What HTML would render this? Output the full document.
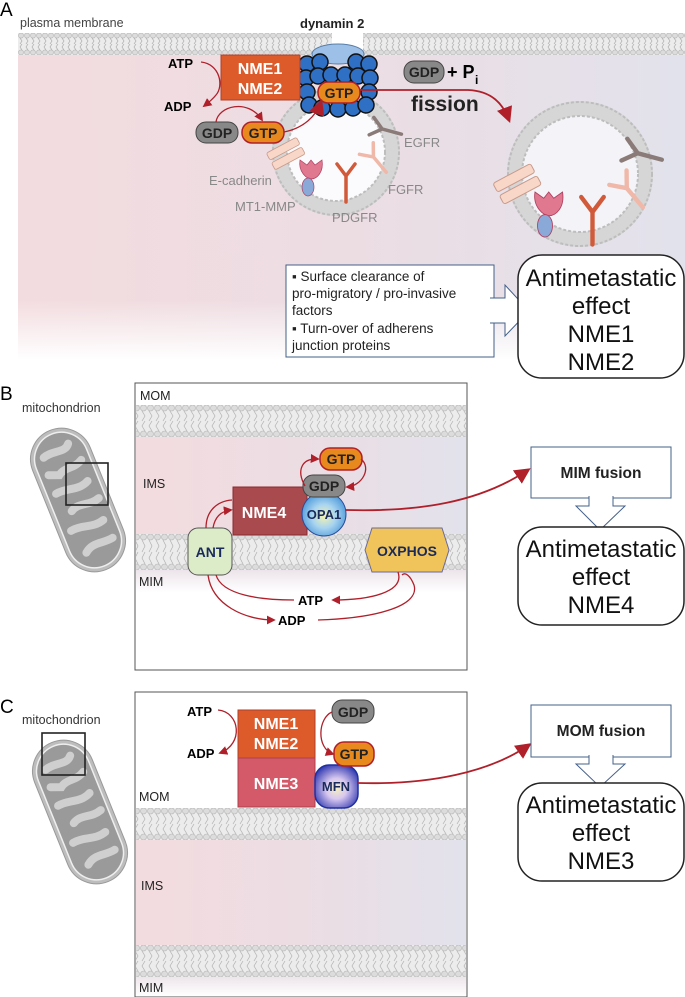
<!DOCTYPE html>
<html><head><meta charset="utf-8"><style>
html,body{margin:0;padding:0;background:#fff;}
svg{display:block;font-family:"Liberation Sans",Arial,sans-serif;}
</style></head><body>
<svg width="685" height="997" viewBox="0 0 685 997" xmlns="http://www.w3.org/2000/svg">
<defs>
<marker id="ar" viewBox="0 0 10 10" refX="8" refY="5" markerWidth="9" markerHeight="9" markerUnits="userSpaceOnUse" orient="auto"><path d="M0,0 L10,5 L0,10 z" fill="#b0202a"/></marker>
<marker id="arb" viewBox="0 0 10 10" refX="8" refY="5" markerWidth="16" markerHeight="16" markerUnits="userSpaceOnUse" orient="auto"><path d="M0,0 L10,5 L0,10 z" fill="#b0202a"/></marker>
<linearGradient id="bgA" x1="0" x2="1" y1="0" y2="0"><stop offset="0" stop-color="#f3dcdf"/><stop offset="0.5" stop-color="#ecdde3"/><stop offset="1" stop-color="#e2e2ec"/></linearGradient>
<linearGradient id="fadeW" x1="0" x2="0" y1="0" y2="1"><stop offset="0" stop-color="#fff" stop-opacity="0"/><stop offset="1" stop-color="#fff" stop-opacity="1"/></linearGradient>
<radialGradient id="opa" cx="0.5" cy="0.55" r="0.6"><stop offset="0" stop-color="#f4f3b0"/><stop offset="0.45" stop-color="#a8d4f0"/><stop offset="1" stop-color="#3d8fd6"/></radialGradient>
<radialGradient id="mfn" cx="0.5" cy="0.55" r="0.6"><stop offset="0" stop-color="#f6f0c0"/><stop offset="0.4" stop-color="#d8c8f0"/><stop offset="1" stop-color="#3038b0"/></radialGradient>
<pattern id="memA" patternUnits="userSpaceOnUse" x="0" y="33" width="6" height="22"><rect width="6" height="22" fill="#ececec"/><circle cx="3" cy="2.6" r="2.5" fill="#dcdcdc" stroke="#b5b5b5" stroke-width="0.6"/><circle cx="3" cy="19.4" r="2.5" fill="#dcdcdc" stroke="#b5b5b5" stroke-width="0.6"/><path d="M2,5 L4,8 L2,11 M4,11 L2,14 L4,17" stroke="#b0b0b0" stroke-width="0.7" fill="none"/></pattern>
<pattern id="memB1" patternUnits="userSpaceOnUse" x="0" y="405" width="7" height="32"><rect width="7" height="32" fill="#ececec"/><circle cx="3.5" cy="3" r="3" fill="#dcdcdc" stroke="#b5b5b5" stroke-width="0.6"/><circle cx="3.5" cy="29" r="3" fill="#dcdcdc" stroke="#b5b5b5" stroke-width="0.6"/><path d="M2,6 L5,11 L2,16 M5,16 L2,21 L5,26" stroke="#b0b0b0" stroke-width="0.7" fill="none"/></pattern>
<pattern id="memB2" patternUnits="userSpaceOnUse" x="0" y="534" width="7" height="36"><rect width="7" height="36" fill="#ececec"/><circle cx="3.5" cy="3" r="3" fill="#dcdcdc" stroke="#b5b5b5" stroke-width="0.6"/><circle cx="3.5" cy="33" r="3" fill="#dcdcdc" stroke="#b5b5b5" stroke-width="0.6"/><path d="M2,6 L5,12 L2,18 M5,18 L2,24 L5,30" stroke="#b0b0b0" stroke-width="0.7" fill="none"/></pattern>
<pattern id="memC1" patternUnits="userSpaceOnUse" x="0" y="808" width="7" height="32"><rect width="7" height="32" fill="#ececec"/><circle cx="3.5" cy="3" r="3" fill="#dcdcdc" stroke="#b5b5b5" stroke-width="0.6"/><circle cx="3.5" cy="29" r="3" fill="#dcdcdc" stroke="#b5b5b5" stroke-width="0.6"/><path d="M2,6 L5,11 L2,16 M5,16 L2,21 L5,26" stroke="#b0b0b0" stroke-width="0.7" fill="none"/></pattern>
<pattern id="memC2" patternUnits="userSpaceOnUse" x="0" y="945" width="7" height="32"><rect width="7" height="32" fill="#ececec"/><circle cx="3.5" cy="3" r="3" fill="#dcdcdc" stroke="#b5b5b5" stroke-width="0.6"/><circle cx="3.5" cy="29" r="3" fill="#dcdcdc" stroke="#b5b5b5" stroke-width="0.6"/><path d="M2,6 L5,11 L2,16 M5,16 L2,21 L5,26" stroke="#b0b0b0" stroke-width="0.7" fill="none"/></pattern>
<g id="rec">
 <g transform="translate(-50,2) rotate(-28)"><rect x="-17" y="-10" width="34" height="8" rx="2" fill="#f8d6c8" stroke="#c89a8a" stroke-width="0.8"/><rect x="-17" y="1" width="34" height="8" rx="2" fill="#f8d6c8" stroke="#c89a8a" stroke-width="0.8"/></g>
 <g transform="translate(-25,20)"><path d="M-11,-12 C-13,0 -4,7 0,7 C6,7 13,0 11,-12 L4,-7 L0,-12 L-4,-7 z" fill="#e07890" stroke="#b04060" stroke-width="0.7"/><ellipse cx="-3" cy="15" rx="6" ry="9" fill="#8aa8d8" stroke="#b04060" stroke-width="0.7"/></g>
 <g transform="translate(10,30)" stroke="#d05a3a" stroke-width="3.5" fill="none" stroke-linecap="round"><path d="M0,20 L0,-6 L-9,-18 M0,-6 L9,-18"/></g>
 <g transform="translate(40,8) rotate(-40)" stroke="#f0b8a8" stroke-width="3.5" fill="none" stroke-linecap="round"><path d="M0,16 L0,-4 L-9,-15 M0,-4 L9,-15"/></g>
 <g transform="translate(50,-22) rotate(-75)" stroke="#8a7a78" stroke-width="3.5" fill="none" stroke-linecap="round"><path d="M0,16 L0,-4 L-9,-15 M0,-4 L9,-15"/></g>
</g>
<g id="mito">
<rect x="-31" y="-75" width="62" height="150" rx="31" fill="#bdbdbd" stroke="#999"/>
<rect x="-27" y="-71" width="54" height="142" rx="27" fill="#9a9a9a" stroke="#eee" stroke-width="1.5"/>
<g stroke="#cfcfcf" stroke-width="8" stroke-linecap="round" fill="none">
<path d="M-16,-52 C-5,-56 6,-48 12,-56"/><path d="M18,-36 C8,-30 0,-36 -8,-30 L-18,-34"/><path d="M-18,-14 C-6,-16 4,-8 16,-14"/><path d="M20,6 C8,10 0,2 -10,8"/><path d="M-18,26 C-6,24 4,32 16,28"/><path d="M18,48 C6,50 -2,44 -12,52"/>
</g></g>
</defs>

<!-- PANEL A -->
<text x="0" y="16" font-size="19">A</text>
<text x="20" y="27" font-size="12.5" fill="#444">plasma membrane</text>
<text x="300" y="28" font-size="13" font-weight="bold" fill="#222">dynamin 2</text>
<rect x="18" y="55" width="667" height="305" fill="url(#bgA)"/>
<rect x="18" y="300" width="667" height="60" fill="url(#fadeW)"/>
<rect x="18" y="33" width="314" height="22" fill="url(#memA)"/>
<rect x="363" y="33" width="322" height="22" fill="url(#memA)"/>
<circle cx="336" cy="152" r="56" fill="none" stroke="#d6d6d6" stroke-width="16"/>
<circle cx="336" cy="152" r="63" fill="none" stroke="#bdbdbd" stroke-width="2" stroke-dasharray="3 2"/>
<circle cx="336" cy="152" r="49" fill="#fbfbfd" stroke="#bdbdbd" stroke-width="2" stroke-dasharray="3 2"/>
<use href="#rec" transform="translate(336,152)"/>
<circle cx="580" cy="174" r="65" fill="none" stroke="#d6d6d6" stroke-width="16"/>
<circle cx="580" cy="174" r="72" fill="none" stroke="#bdbdbd" stroke-width="2" stroke-dasharray="3 2"/>
<circle cx="580" cy="174" r="58" fill="#f4f4f8" stroke="#bdbdbd" stroke-width="2" stroke-dasharray="3 2"/>
<use href="#rec" transform="translate(580,182) scale(1.25)"/>
<ellipse cx="338" cy="54" rx="26" ry="10" fill="#9cc0e8" stroke="#5a7ea8"/>
<g fill="#2f6fc4" stroke="#111" stroke-width="1.5">
<circle cx="307" cy="64" r="8"/><circle cx="320" cy="62" r="8"/><circle cx="356" cy="62" r="8"/><circle cx="369" cy="64" r="8"/>
<circle cx="306" cy="78" r="8"/><circle cx="318" cy="76" r="8"/><circle cx="331" cy="75" r="8"/><circle cx="345" cy="75" r="8"/><circle cx="358" cy="76" r="8"/><circle cx="370" cy="78" r="8"/>
<circle cx="307" cy="92" r="8"/><circle cx="369" cy="92" r="8"/>
<circle cx="309" cy="105" r="8"/><circle cx="322" cy="108" r="8"/><circle cx="338" cy="109" r="8"/><circle cx="353" cy="108" r="8"/><circle cx="366" cy="105" r="8"/>
</g>
<rect x="318" y="82" width="42" height="21" rx="10" fill="#e8891e" stroke="#b0202a" stroke-width="1.5"/>
<text x="339" y="98" font-size="14" font-weight="bold" text-anchor="middle" fill="#222">GTP</text>
<rect x="221" y="55" width="79" height="45" fill="#dd5a2a" stroke="#b0402a"/>
<text x="260" y="74" font-size="16" font-weight="bold" fill="#fff" text-anchor="middle">NME1</text>
<text x="260" y="94" font-size="16" font-weight="bold" fill="#fff" text-anchor="middle">NME2</text>
<text x="168" y="68" font-size="13" font-weight="bold">ATP</text>
<text x="164" y="111" font-size="13" font-weight="bold">ADP</text>
<rect x="196" y="122" width="42" height="21" rx="10" fill="#888" stroke="#444"/>
<text x="217" y="138" font-size="14" font-weight="bold" text-anchor="middle" fill="#222">GDP</text>
<rect x="242" y="122" width="42" height="21" rx="10" fill="#e8891e" stroke="#b0202a" stroke-width="1.5"/>
<text x="263" y="138" font-size="14" font-weight="bold" text-anchor="middle" fill="#222">GTP</text>
<g fill="none" stroke="#b0202a" stroke-width="1.3">
<path d="M201,62 C220,64 224,86 216,95 C212,100 208,103 204,106" marker-end="url(#ar)"/>
<path d="M216,122 C218,106 248,98 262,120" marker-end="url(#ar)"/>
<path d="M284,132 C304,128 316,116 321,102" marker-end="url(#arb)"/>
<path d="M360,90 L468,90 C492,91 503,104 509,120" stroke-width="1.8" marker-end="url(#arb)"/>
</g>
<rect x="404" y="61" width="40" height="22" rx="10" fill="#888" stroke="#444"/>
<text x="424" y="77" font-size="14" font-weight="bold" text-anchor="middle" fill="#222">GDP</text>
<text x="447" y="78" font-size="18" font-weight="bold">+ P</text>
<text x="475" y="84" font-size="12" font-weight="bold">i</text>
<text x="411" y="111" font-size="21" font-weight="bold" fill="#222">fission</text>
<g font-size="13" fill="#888">
<text x="404" y="147">EGFR</text><text x="209" y="185">E-cadherin</text><text x="388" y="194">FGFR</text><text x="235" y="211">MT1-MMP</text><text x="332" y="222">PDGFR</text>
</g>
<rect x="286" y="265" width="208" height="92" fill="#fff" stroke="#44608a"/>
<g font-size="13.5" fill="#222">
<text x="292" y="281">▪ Surface clearance of</text>
<text x="292" y="298">pro-migratory / pro-invasive</text>
<text x="292" y="315">factors</text>
<text x="292" y="333">▪ Turn-over of adherens</text>
<text x="292" y="350">junction proteins</text>
</g>
<path d="M490,298 L505,298 L505,285 L529,311 L505,336 L505,323 L490,323" fill="#fff" stroke="#44608a"/>
<rect x="518" y="255" width="166" height="123" rx="24" fill="#fff" stroke="#222" stroke-width="1.5"/>
<g font-size="24" text-anchor="middle" fill="#111">
<text x="601" y="286">Antimetastatic</text><text x="601" y="314">effect</text><text x="601" y="342">NME1</text><text x="601" y="370">NME2</text>
</g>

<!-- PANEL B -->
<text x="0" y="400" font-size="19">B</text>
<text x="22" y="412" font-size="12.5" fill="#333">mitochondrion</text>
<use href="#mito" transform="translate(78,500) rotate(-22)"/>
<rect x="66" y="463" width="42" height="42" fill="none" stroke="#222" stroke-width="1.6"/>
<rect x="135" y="383" width="332" height="287" fill="#fff" stroke="#555"/>
<rect x="136" y="437" width="330" height="97" fill="url(#bgA)"/>
<rect x="136" y="570" width="330" height="22" fill="#ece4ea"/>
<rect x="136" y="570" width="330" height="22" fill="url(#fadeW)"/>
<rect x="136" y="405" width="330" height="32" fill="url(#memB1)"/>
<rect x="136" y="534" width="330" height="36" fill="url(#memB2)"/>
<text x="140" y="400" font-size="12.5" fill="#222">MOM</text>
<text x="143" y="488" font-size="12.5" fill="#222">IMS</text>
<text x="139" y="586" font-size="12.5" fill="#222">MIM</text>
<rect x="233" y="487" width="74" height="48" fill="#a84a4e" stroke="#8a2a30"/>
<text x="264" y="518" font-size="16" font-weight="bold" fill="#fff" text-anchor="middle">NME4</text>
<ellipse cx="324" cy="514" rx="22" ry="22" fill="url(#opa)" stroke="#2a4a9a"/>
<text x="324" y="519" font-size="13" font-weight="bold" fill="#1a2a5a" text-anchor="middle">OPA1</text>
<rect x="303" y="475" width="42" height="22" rx="10" fill="#888" stroke="#444"/>
<text x="324" y="491" font-size="14" font-weight="bold" text-anchor="middle" fill="#222">GDP</text>
<rect x="320" y="448" width="42" height="22" rx="10" fill="#e8891e" stroke="#b0202a" stroke-width="1.5"/>
<text x="341" y="464" font-size="14" font-weight="bold" text-anchor="middle" fill="#222">GTP</text>
<rect x="188" y="528" width="44" height="47" rx="10" fill="#dcebc8" stroke="#555"/>
<text x="210" y="557" font-size="14" font-weight="bold" fill="#1a2a5a" text-anchor="middle">ANT</text>
<polygon points="372,528 442,528 449,550 442,572 372,572 365,550" fill="#f0c45a" stroke="#6a6a9a"/>
<text x="407" y="556" font-size="14" font-weight="bold" fill="#1a2a5a" text-anchor="middle">OXPHOS</text>
<text x="298" y="605" font-size="13" font-weight="bold">ATP</text>
<text x="278" y="625" font-size="13" font-weight="bold">ADP</text>
<g fill="none" stroke="#b0202a" stroke-width="1.3">
<path d="M305,486 C296,470 302,458 318,459" marker-end="url(#ar)"/>
<path d="M361,459 C372,468 362,486 347,487" marker-end="url(#ar)"/>
<path d="M206,528 C206,510 218,501 232,500"/>
<path d="M213,528 C215,516 222,511 231,510" marker-end="url(#ar)"/>
<path d="M208,575 C212,605 245,620 274,620" marker-end="url(#ar)"/>
<path d="M216,575 C222,595 260,600 294,600"/>
<path d="M318,620 C380,618 420,605 414,585 C410,575 405,572 402,575"/>
<path d="M398,572 C405,592 370,600 333,600" marker-end="url(#ar)"/>
<path d="M346,510 C420,512 480,502 528,470" stroke-width="1.8" marker-end="url(#arb)"/>
</g>
<rect x="531" y="447" width="140" height="51" fill="#fff" stroke="#44608a"/>
<text x="601" y="478" font-size="15.5" font-weight="bold" text-anchor="middle" fill="#222">MIM fusion</text>
<path d="M589,496 L589,506 L576,506 L600,530 L625,506 L613,506 L613,496" fill="#fff" stroke="#44608a"/>
<rect x="518" y="527" width="166" height="98" rx="24" fill="#fff" stroke="#222" stroke-width="1.5"/>
<g font-size="24" text-anchor="middle" fill="#111">
<text x="601" y="557">Antimetastatic</text><text x="601" y="585">effect</text><text x="601" y="613">NME4</text>
</g>

<!-- PANEL C -->
<text x="0" y="713" font-size="19">C</text>
<text x="22" y="724" font-size="12.5" fill="#333">mitochondrion</text>
<use href="#mito" transform="translate(80,812) rotate(-22)"/>
<rect x="42" y="733" width="43" height="42" fill="none" stroke="#222" stroke-width="1.6"/>
<rect x="135" y="692" width="332" height="305" fill="#fff" stroke="#555"/>
<rect x="136" y="840" width="330" height="105" fill="url(#bgA)"/>
<rect x="136" y="976" width="330" height="20" fill="#ece4ea"/>
<rect x="136" y="976" width="330" height="20" fill="url(#fadeW)"/>
<rect x="136" y="808" width="330" height="32" fill="url(#memC1)"/>
<rect x="136" y="945" width="330" height="32" fill="url(#memC2)"/>
<text x="139" y="801" font-size="12.5" fill="#222">MOM</text>
<text x="141" y="890" font-size="12.5" fill="#222">IMS</text>
<text x="139" y="992" font-size="12.5" fill="#222">MIM</text>
<rect x="238" y="710" width="77" height="48" fill="#dd5a2a" stroke="#b0402a"/>
<text x="276" y="729" font-size="16" font-weight="bold" fill="#fff" text-anchor="middle">NME1</text>
<text x="276" y="749" font-size="16" font-weight="bold" fill="#fff" text-anchor="middle">NME2</text>
<rect x="238" y="758" width="77" height="49" fill="#d45a6a" stroke="#b0404a"/>
<text x="276" y="789" font-size="16" font-weight="bold" fill="#fff" text-anchor="middle">NME3</text>
<rect x="315" y="765" width="43" height="43" rx="14" fill="url(#mfn)" stroke="#2030a0" stroke-width="1.5"/>
<text x="336" y="791" font-size="13" font-weight="bold" fill="#1a2a5a" text-anchor="middle">MFN</text>
<rect x="332" y="700" width="42" height="23" rx="10" fill="#888" stroke="#444"/>
<text x="353" y="717" font-size="14" font-weight="bold" text-anchor="middle" fill="#222">GDP</text>
<rect x="334" y="742" width="40" height="24" rx="10" fill="#e8891e" stroke="#b0202a" stroke-width="1.5"/>
<text x="354" y="759" font-size="14" font-weight="bold" text-anchor="middle" fill="#222">GTP</text>
<text x="187" y="716" font-size="13" font-weight="bold">ATP</text>
<text x="187" y="758" font-size="13" font-weight="bold">ADP</text>
<g fill="none" stroke="#b0202a" stroke-width="1.3">
<path d="M218,710 C240,712 244,744 220,753" marker-end="url(#ar)"/>
<path d="M332,712 C318,718 316,748 333,754" marker-end="url(#ar)"/>
<path d="M358,783 C430,785 490,772 529,745" stroke-width="1.8" marker-end="url(#arb)"/>
</g>
<rect x="531" y="705" width="140" height="52" fill="#fff" stroke="#44608a"/>
<text x="601" y="736" font-size="15.5" font-weight="bold" text-anchor="middle" fill="#222">MOM fusion</text>
<path d="M589,755 L589,764 L576,764 L600,787 L625,764 L613,764 L613,755" fill="#fff" stroke="#44608a"/>
<rect x="518" y="783" width="166" height="98" rx="24" fill="#fff" stroke="#222" stroke-width="1.5"/>
<g font-size="24" text-anchor="middle" fill="#111">
<text x="601" y="813">Antimetastatic</text><text x="601" y="841">effect</text><text x="601" y="869">NME3</text>
</g>
</svg>
</body></html>
